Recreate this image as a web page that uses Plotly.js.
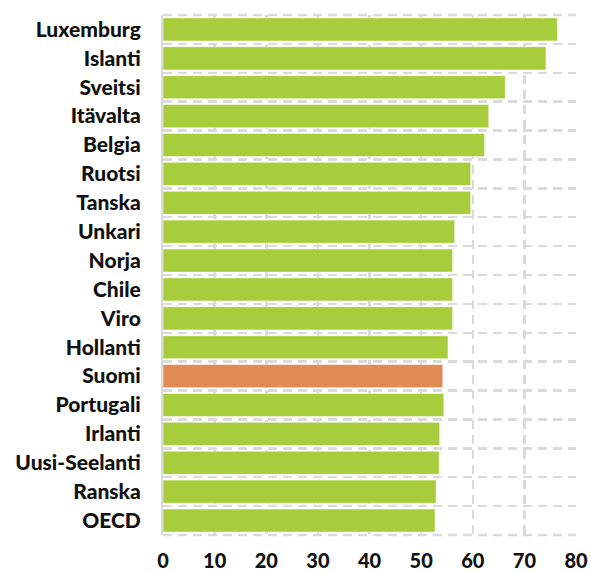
<!DOCTYPE html>
<html>
<head>
<meta charset="utf-8">
<script src="https://cdn.plot.ly/plotly-3.0.1.min.js"></script>
<style>html,body{margin:0;padding:0;background:#fff;}#chart{width:590px;height:572px;}</style>
</head>
<body>
<div id="chart"></div>
<script>
const countries = ["Luxemburg","Islanti","Sveitsi","Itävalta","Belgia","Ruotsi","Tanska","Unkari","Norja","Chile","Viro","Hollanti","Suomi","Portugali","Irlanti","Uusi-Seelanti","Ranska","OECD"];
const values = [76.4,74.2,66.3,63.1,62.3,59.6,59.6,56.5,56.1,56.1,56.1,55.2,54.2,54.4,53.6,53.5,52.9,52.7];
const highlight = "Suomi";
const xTicks = [0,10,20,30,40,50,60,70,80];

const colors = countries.map(c => c === highlight ? "#e08b54" : "#a8cd3c");

const trace = {
  type: "bar",
  orientation: "h",
  y: countries,
  x: values,
  marker: {color: colors, line: {color: "rgba(255,255,255,0.5)", width: 1}},
  hoverinfo: "x+y"
};

const grid = {color: "#dadada", width: 2.5, dash: "9px,6px"};

const layout = {
  width: 590, height: 572,
  margin: {l: 163, r: 14, t: 15, b: 37},
  paper_bgcolor: "#fff", plot_bgcolor: "#fff",
  bargap: 0.2,
  showlegend: false,
  font: {family: "Lato, 'Open Sans', sans-serif", size: 18, color: "#111", weight: 700},
  xaxis: {
    range: [0, 80],
    tickvals: xTicks,
    ticktext: xTicks.map(String),
    showgrid: true, gridcolor: grid.color, gridwidth: grid.width, griddash: grid.dash,
    zeroline: false, showline: false,
    ticks: "", ticklabelstandoff: 12,
    tickfont: {family: "Lato, sans-serif", size: 20, color: "#111", weight: 900},
    fixedrange: true
  },
  yaxis: {
    type: "category",
    autorange: false,
    range: [17.5, -0.5],
    tickson: "boundaries",
    showgrid: true, gridcolor: grid.color, gridwidth: grid.width, griddash: grid.dash,
    showline: true, linecolor: grid.color, linewidth: 2,
    ticks: "", ticklabelstandoff: 16,
    tickfont: {family: "Lato, sans-serif", size: 21, color: "#111", weight: 900},
    zeroline: false,
    fixedrange: true
  },
  shapes: [
    {type: "line", xref: "paper", yref: "paper", x0: 0, x1: 1, y0: 1, y1: 1, line: {color: grid.color, width: grid.width, dash: grid.dash}},
    {type: "line", xref: "paper", yref: "paper", x0: 0, x1: 1, y0: 0, y1: 0, line: {color: grid.color, width: grid.width, dash: grid.dash}}
  ]
};

Plotly.newPlot("chart", [trace], layout, {displayModeBar: false, staticPlot: true});
</script>
</body>
</html>
